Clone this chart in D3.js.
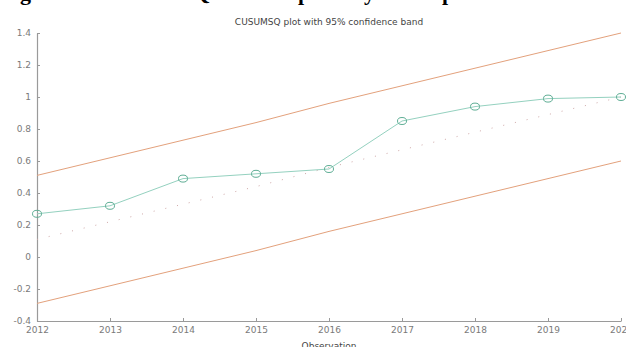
<!DOCTYPE html>
<html>
<head>
<meta charset="utf-8">
<script src="https://cdn.jsdelivr.net/npm/d3@7"></script>
<style>
  body { margin: 0; background: #fff; }
  svg { display: block; }
</style>
</head>
<body>
<script>
const width = 626;
const height = 347;

// data
const years = [2012, 2013, 2014, 2015, 2016, 2017, 2018, 2019, 2020];
const cusumsq = [0.27, 0.32, 0.49, 0.52, 0.55, 0.85, 0.94, 0.99, 1.0];
const expected = [0.11, 0.22, 0.33, 0.44, 0.56, 0.67, 0.78, 0.89, 1.0];
const upperBand = [0.51, 0.62, 0.73, 0.84, 0.96, 1.07, 1.18, 1.29, 1.4];
const lowerBand = [-0.29, -0.18, -0.07, 0.04, 0.16, 0.27, 0.38, 0.49, 0.6];
const yTicks = [-0.4, -0.2, 0, 0.2, 0.4, 0.6, 0.8, 1, 1.2, 1.4];

const margin = {top: 33, right: 5, bottom: 26, left: 37};

const svg = d3.select("body").append("svg")
  .attr("width", width)
  .attr("height", height);

// caption of the page above, mostly cut off
const cap = svg.append("text")
  .attr("y", 0)
  .attr("font-family", "Liberation Serif")
  .attr("font-weight", "bold")
  .attr("font-size", 22)
  .attr("fill", "#000");
cap.append("tspan").attr("x", 0.5).text("Figure 4:");
cap.append("tspan").attr("x", 100).text("CUSUMSQ Test for");
cap.append("tspan").attr("x", 298).text("plot of");
cap.append("tspan").attr("x", 364).text("year");
cap.append("tspan").attr("x", 442).text("parameters");

const x = d3.scaleLinear()
  .domain([2012, 2020])
  .range([margin.left, 621]);

const y = d3.scaleLinear()
  .domain([-0.4, 1.4])
  .range([321, 33]);

const grey = "#9a9a9a";

// axes
const xAxis = d3.axisBottom(x)
  .tickValues(years)
  .tickFormat(d3.format("d"))
  .tickSizeInner(-3)
  .tickSizeOuter(0)
  .tickPadding(6);

const yAxis = d3.axisLeft(y)
  .tickValues(yTicks)
  .tickFormat(function (d) { return d3.format("")(+d.toFixed(1)).replace("−", "-"); })
  .tickSizeInner(-3)
  .tickSizeOuter(0)
  .tickPadding(6);

const gx = svg.append("g")
  .attr("transform", "translate(0," + 321 + ")")
  .call(xAxis);

const gy = svg.append("g")
  .attr("transform", "translate(" + margin.left + ",0)")
  .call(yAxis);

[gx, gy].forEach(function (g) {
  g.select(".domain").attr("stroke", grey).attr("stroke-width", 1.2);
  g.selectAll(".tick line").attr("stroke", grey);
  g.selectAll(".tick text")
    .attr("fill", "#7a7a7a")
    .attr("font-family", "DejaVu Sans")
    .attr("font-size", 9);
});

// title and axis label
svg.append("text")
  .attr("x", 329)
  .attr("y", 25)
  .attr("text-anchor", "middle")
  .attr("font-family", "DejaVu Sans")
  .attr("font-size", 9)
  .attr("fill", "#444")
  .text("CUSUMSQ plot with 95% confidence band");

svg.append("text")
  .attr("x", 329)
  .attr("y", 349)
  .attr("text-anchor", "middle")
  .attr("font-family", "DejaVu Sans")
  .attr("font-size", 9)
  .attr("fill", "#444")
  .text("Observation");

const line = d3.line()
  .x(function (d, i) { return x(years[i]); })
  .y(function (d) { return y(d); });

// confidence band
[upperBand, lowerBand].forEach(function (band) {
  svg.append("path")
    .datum(band)
    .attr("d", line)
    .attr("fill", "none")
    .attr("stroke", "#e3a17c")
    .attr("stroke-width", 1);
});

// expected path
svg.append("path")
  .datum(expected)
  .attr("d", line)
  .attr("fill", "none")
  .attr("stroke", "#cfa9a9")
  .attr("stroke-width", 1)
  .attr("stroke-dasharray", "1,11");

// cusumsq
svg.append("path")
  .datum(cusumsq)
  .attr("d", line)
  .attr("fill", "none")
  .attr("stroke", "#94d1bf")
  .attr("stroke-width", 1);

svg.selectAll("ellipse.pt")
  .data(cusumsq)
  .enter()
  .append("ellipse")
    .attr("class", "pt")
    .attr("cx", function (d, i) { return x(years[i]); })
    .attr("cy", function (d) { return y(d); })
    .attr("rx", 4.5)
    .attr("ry", 3.5)
    .attr("fill", "none")
    .attr("stroke", "#5fae95")
    .attr("stroke-width", 1);
</script>
</body>
</html>
